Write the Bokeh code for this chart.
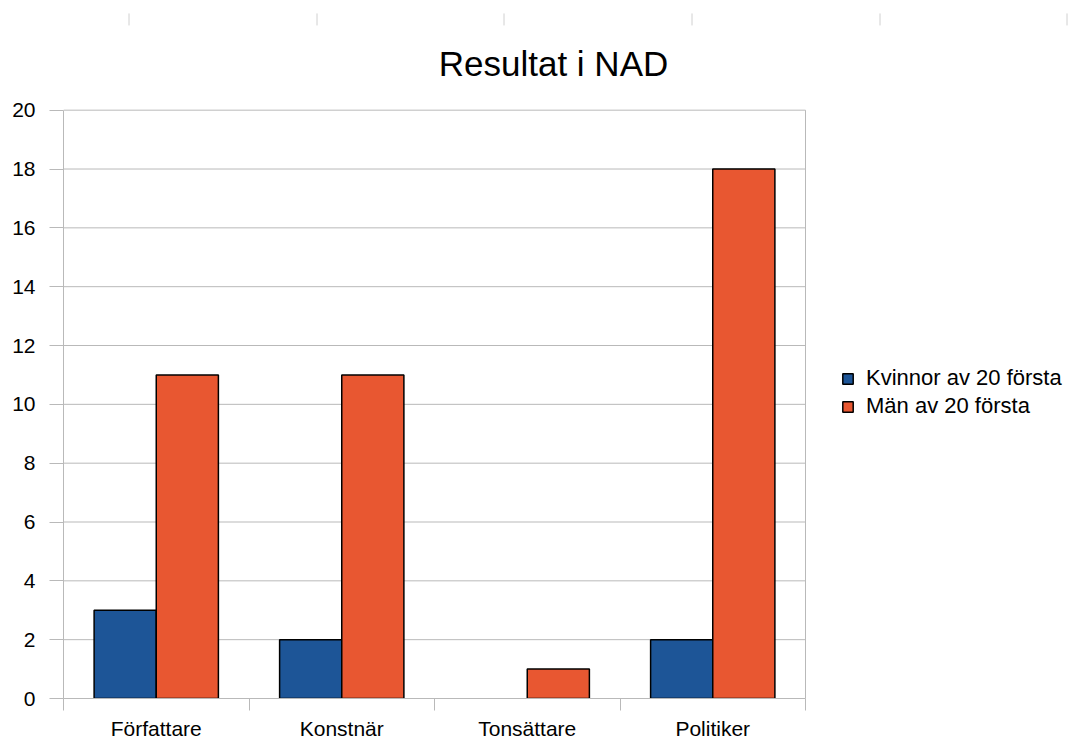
from bokeh.plotting import figure
from bokeh.models import Range1d, FixedTicker, Legend, LegendItem, ColumnDataSource, Label
from bokeh.transform import dodge
from bokeh.embed import file_html
from bokeh.resources import INLINE

# ---- data ----
categories = ["Författare", "Konstnär", "Tonsättare", "Politiker"]
kvinnor = [3, 2, 0, 2]
man = [11, 11, 1, 18]
series_names = ["Kvinnor av 20 första", "Män av 20 första"]
y_ticks = [0, 2, 4, 6, 8, 10, 12, 14, 16, 18, 20]
y_max = 20
title_text = "Resultat i NAD"

# ---- style / layout ----
FONT = "Liberation Sans"
GRAY = "#b9b9b9"
BLUE = "#1d5597"
ORANGE = "#e85731"
W, H = 1079, 742
PLOT_L, PLOT_R, PLOT_T, PLOT_B = 63, 805, 110, 700   # pixel box of the chart area

n = len(categories)
px_x = (PLOT_R - PLOT_L) / n
px_y = (PLOT_B - PLOT_T) / y_max


def dx(px):
    return (px - PLOT_L) / px_x


def dy(py):
    return (PLOT_B - py) / px_y


centers = [i + 0.5 for i in range(n)]
bounds = list(range(n + 1))
src = ColumnDataSource(dict(
    x=centers, k=kvinnor, m=man,
    kline=["black" if v > 0 else None for v in kvinnor],
    mline=["black" if v > 0 else None for v in man],
))

p = figure(width=W, height=H, x_range=Range1d(0, dx(W)), y_range=Range1d(0, dy(0)),
           output_backend="svg", toolbar_location=None,
           min_border_left=PLOT_L, min_border_right=0, min_border_top=0,
           min_border_bottom=H - PLOT_B)
p.outline_line_color = None
p.grid.grid_line_color = None

# horizontal grid lines and right border of the chart box
p.segment(x0=[0] * len(y_ticks), x1=[n] * len(y_ticks), y0=y_ticks, y1=y_ticks,
          line_color=GRAY, line_width=1)
p.segment(x0=[n], x1=[n], y0=[0], y1=[y_max], line_color=GRAY, line_width=1)

# decorative spreadsheet column marks at the very top (not data)
mark_x = [128, 316, 503, 691, 879, 1066]
p.segment(x0=[dx(m + 0.5) for m in mark_x], x1=[dx(m + 0.5) for m in mark_x],
          y0=[dy(13)] * len(mark_x), y1=[dy(25)] * len(mark_x),
          line_color="#d0d0d0", line_width=1)

r1 = p.vbar(x=dodge("x", -0.1675), top="k", width=0.335, source=src,
            fill_color=BLUE, line_color="kline", line_width=1.5)
r2 = p.vbar(x=dodge("x", 0.1675), top="m", width=0.335, source=src,
            fill_color=ORANGE, line_color="mline", line_width=1.5)

p.add_layout(Label(x=dx(553), y=dy(63), text=title_text, text_align="center",
                   text_baseline="middle", text_font=FONT, text_font_size="35px",
                   text_color="black"))

xa = p.xaxis[0]
xa.bounds = (0, n)
xa.ticker = FixedTicker(ticks=centers, minor_ticks=bounds)
xa.major_label_overrides = {c: name for c, name in zip(centers, categories)}
xa.major_tick_line_color = None
xa.major_tick_out = 0
xa.major_tick_in = 0
xa.minor_tick_out = 12
xa.minor_tick_in = 0
xa.minor_tick_line_color = GRAY
xa.axis_line_color = GRAY
xa.major_label_standoff = 6
xa.major_label_text_font = FONT
xa.major_label_text_font_size = "21px"
xa.major_label_text_color = "black"

ya = p.yaxis[0]
ya.bounds = (0, y_max)
ya.ticker = FixedTicker(ticks=y_ticks)
ya.major_tick_out = 14
ya.major_tick_in = 0
ya.minor_tick_line_color = None
ya.major_tick_line_color = GRAY
ya.axis_line_color = GRAY
ya.major_label_standoff = 14
ya.major_label_text_font = FONT
ya.major_label_text_font_size = "21px"
ya.major_label_text_color = "black"

legend = Legend(items=[LegendItem(label=series_names[0], renderers=[r1], index=0),
                       LegendItem(label=series_names[1], renderers=[r2], index=0)],
                location=(841 - PLOT_L, 279), glyph_width=13, glyph_height=13,
                label_standoff=12, label_text_font=FONT, label_text_font_size="22px",
                label_text_color="black", padding=0, margin=0, spacing=2,
                border_line_color=None, background_fill_alpha=0)
p.add_layout(legend, "center")

open("out.html", "w").write(file_html(p, INLINE))
